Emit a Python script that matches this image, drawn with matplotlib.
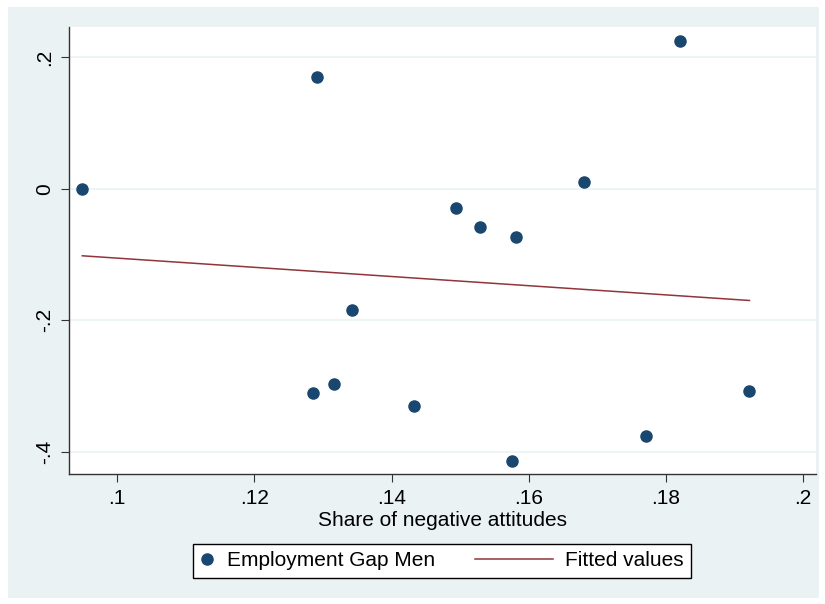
import numpy as np
import matplotlib
matplotlib.use("Agg")
import matplotlib.pyplot as plt
from matplotlib.patches import Rectangle
from matplotlib.lines import Line2D
from matplotlib.legend_handler import HandlerLine2D

# ---- data ----
share_neg = [0.0949, 0.1292, 0.1342, 0.1285, 0.1316, 0.1433, 0.1494, 0.1529,
             0.1581, 0.1576, 0.1771, 0.1681, 0.1821, 0.1922]
gap_men = [0.000, 0.170, -0.185, -0.311, -0.297, -0.330, -0.029, -0.058,
           -0.073, -0.414, -0.376, 0.010, 0.225, -0.308]
fit_x = [0.0949, 0.1922]
fit_y = [-0.102, -0.170]

xticks = [0.10, 0.12, 0.14, 0.16, 0.18, 0.20]
xticklabels = [".1", ".12", ".14", ".16", ".18", ".2"]
yticks = [0.2, 0.0, -0.2, -0.4]
yticklabels = [".2", "0", "-.2", "-.4"]

series_label = "Employment Gap Men"
fit_label = "Fitted values"
xlabel = "Share of negative attitudes"

# ---- style ----
BG = "#EAF2F3"
NAVY = "#1A476F"
MAROON = "#90353B"
FS = 15
plt.rcParams["font.family"] = ["Liberation Sans", "DejaVu Sans"]

W, H = 825, 604
fig = plt.figure(figsize=(W / 100, H / 100), dpi=100, facecolor="white")
fig.patches.append(Rectangle((8 / W, 1 - 598 / H), (819 - 8) / W, (598 - 7) / H,
                             transform=fig.transFigure, facecolor=BG,
                             edgecolor="none", zorder=-10))

L, R, T, B = 69, 816, 27, 474
ax = fig.add_axes([L / W, 1 - B / H, (R - L) / W, (B - T) / H])
ax.set_facecolor("white")

ax.set_xlim(0.09296, 0.2019)
ax.set_ylim(-0.434, 0.2461)

for y in yticks:
    ax.axhline(y, color=BG, lw=1.2, zorder=0)

ax.plot(fit_x, fit_y, color=MAROON, lw=1.1, zorder=2, label=fit_label)
ax.plot(share_neg, gap_men, linestyle="none", marker="o", ms=8,
        color=NAVY, mec=NAVY, zorder=3, label=series_label)

for s in ["top", "right"]:
    ax.spines[s].set_visible(False)
for s in ["left", "bottom"]:
    ax.spines[s].set_color("#333333")
    ax.spines[s].set_linewidth(1.0)

ax.set_xticks(xticks)
ax.set_xticklabels(xticklabels)
ax.set_yticks(yticks)
ax.set_yticklabels(yticklabels, rotation=90, va="center")
ax.tick_params(axis="both", length=6, width=0.8, color="#333333",
               labelsize=FS, pad=5, labelcolor="black")
ax.set_xlabel(xlabel, fontsize=FS, labelpad=2)


class LongLine(HandlerLine2D):
    def __init__(self, ext, **kw):
        super().__init__(**kw)
        self.ext = ext

    def create_artists(self, legend, orig_handle, xdescent, ydescent,
                       width, height, fontsize, trans):
        yc = (height - ydescent) / 2.0
        line = Line2D([-xdescent - self.ext, width - xdescent], [yc, yc])
        self.update_prop(line, orig_handle, legend)
        line.set_marker("None")
        line.set_transform(trans)
        return [line]


handles, labels = ax.get_legend_handles_labels()
order = [1, 0]
handles = [handles[i] for i in order]
labels = [labels[i] for i in order]
leg = fig.legend(handles, labels, loc="center",
                 bbox_to_anchor=(442 / W, 1 - 561 / H), ncol=2,
                 fontsize=FS, frameon=True, fancybox=False,
                 handlelength=0.67, handletextpad=0.58, columnspacing=5.0,
                 borderpad=0.38, borderaxespad=0,
                 handler_map={handles[1]: LongLine(ext=46)})
leg.get_frame().set_edgecolor("black")
leg.get_frame().set_linewidth(1.0)
leg.get_frame().set_facecolor("white")
leg.get_frame().set_alpha(1)

fig.savefig("out.png", dpi=100, facecolor=fig.get_facecolor())
